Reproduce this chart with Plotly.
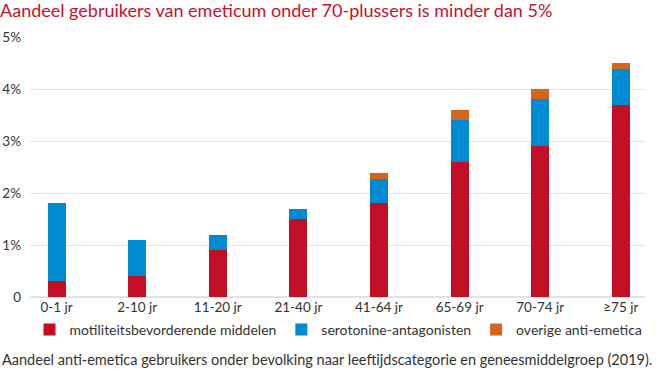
import plotly.graph_objects as go

categories = ["0-1 jr", "2-10 jr", "11-20 jr", "21-40 jr", "41-64 jr", "65-69 jr", "70-74 jr", "≥75 jr"]
motiliteit = [0.3, 0.4, 0.9, 1.5, 1.8, 2.6, 2.9, 3.7]
serotonine = [1.5, 0.7, 0.3, 0.2, 0.47, 0.8, 0.9, 0.68]
overige = [0.0, 0.0, 0.0, 0.0, 0.12, 0.2, 0.2, 0.12]
series_names = ["motiliteitsbevorderende middelen", "serotonine-antagonisten", "overige anti-emetica"]
colors = ["#C30F24", "#008AD1", "#D3661D"]
tick_vals = [0, 1, 2, 3, 4, 5]
tick_text = ["0", "1%", "2%", "3%", "4%", "5%"]

FONT = "Lato"
fig = go.Figure()
for name, vals, col in zip(series_names, [motiliteit, serotonine, overige], colors):
    fig.add_trace(go.Bar(x=list(range(len(categories))), y=vals, name=name,
                         marker=dict(color=col, line=dict(width=0)), width=0.223))

fig.update_layout(
    barmode="stack",
    width=656, height=369,
    margin=dict(l=30, r=11, t=37, b=72, autoexpand=False),
    plot_bgcolor="white", paper_bgcolor="white",
    font=dict(family=FONT, size=13, color="#333333"),
    title=dict(text="Aandeel gebruikers van emeticum onder 70-plussers is minder dan 5%",
               x=0.0, xanchor="left", xref="container", y=1 - 11 / 369, yanchor="middle", yref="container",
               font=dict(family=FONT, size=18, color="#C8102E"), pad=dict(l=0, t=0, b=0)),
    xaxis=dict(tickmode="array", tickvals=list(range(len(categories))), ticktext=categories,
               range=[-0.33, 7.30], showgrid=False, zeroline=False, showline=False,
               ticks="", tickfont=dict(size=13.5, color="#333333"), automargin=False),
    yaxis=dict(range=[0, 5], tickvals=tick_vals, ticktext=tick_text, showgrid=True,
               gridcolor="#E3E3E3", gridwidth=1, zeroline=True, zerolinecolor="#E3E3E3",
               zerolinewidth=2, ticks="", ticklabelstandoff=8,
               tickfont=dict(size=13.5, color="#333333"), automargin=False),
    legend=dict(orientation="h", x=0.045, xanchor="left", xref="container",
                y=1 - 314 / 369, yanchor="top", yref="container",
                font=dict(size=14, color="#333333"), traceorder="normal",
                itemwidth=30, tracegroupgap=0),
    showlegend=True,
    bargap=0.78,
)
fig.add_annotation(text="Aandeel anti-emetica gebruikers onder bevolking naar leeftijdscategorie en geneesmiddelgroep (2019).",
                   xref="paper", yref="paper", x=-30/615, xanchor="left", y=-52/260, yanchor="top",
                   showarrow=False, font=dict(family=FONT, size=14.5, color="#333333"))
fig.write_html("out.html", config={"displayModeBar": False},
               post_script="document.body.style.margin='0';document.body.style.overflow='hidden';")
